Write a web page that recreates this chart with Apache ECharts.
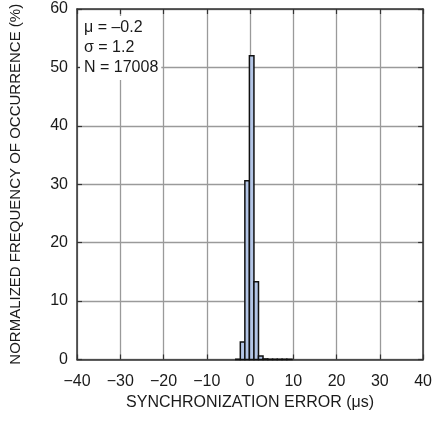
<!DOCTYPE html>
<html><head><meta charset="utf-8">
<script src="https://cdn.jsdelivr.net/npm/echarts@6/dist/echarts.min.js"></script>
<style>html,body{margin:0;padding:0;background:#fff}#c{width:435px;height:423px}</style>
</head><body><div id="c"></div>
<script>
const binLeft  = [-3.3, -2.25, -1.2, -0.15, 0.9, 1.95, 3.0, 4.1, 5.2, 6.3, 7.4, 8.5];
const binRight = [-2.25, -1.2, -0.15, 0.9, 1.95, 3.0, 4.1, 5.2, 6.3, 7.4, 8.5, 9.7];
const freq     = [0.05, 3.0, 30.6, 52.0, 13.3, 0.6, 0.1, 0.05, 0.05, 0.05, 0.05, 0.05];
const xTicks = [-40, 40, 10];
const yTicks = [0, 60, 10];
const statLines = ['μ = –0.2', 'σ = 1.2', 'N = 17008'];
const xTitle = 'SYNCHRONIZATION ERROR (μs)';
const yTitle = 'NORMALIZED FREQUENCY OF OCCURRENCE (%)';

const FONT = '"Liberation Sans Narrow", "Arial Narrow", "Liberation Sans", sans-serif';
const TXT = '#1a1a1a';
const data = binLeft.map((l, i) => [l, binRight[i], freq[i]]);

const chart = echarts.init(document.getElementById('c'), null, {renderer: 'canvas'});
const frame = {show: true, onZero: false, lineStyle: {color: '#333', width: 1.5}};
const tick = {show: true, inside: true, length: 5, lineStyle: {color: '#333', width: 1.2}};
chart.setOption({
  animation: false,
  grid: {left: 75.5, top: 9, right: 8, bottom: 63.5},
  xAxis: [{
    type: 'value', min: xTicks[0], max: xTicks[1], interval: xTicks[2],
    axisLine: frame, axisTick: tick,
    splitLine: {show: true, lineStyle: {color: '#9a9a9a', width: 1.3}},
    axisLabel: {color: TXT, fontFamily: FONT, fontSize: 16, margin: 14,
      formatter: v => (v < 0 ? '\u2212' + Math.abs(v) : '' + v)},
    name: xTitle, nameLocation: 'middle', nameGap: 33,
    nameTextStyle: {color: TXT, fontFamily: FONT, fontSize: 16}
  }, {
    type: 'value', position: 'top', min: xTicks[0], max: xTicks[1], interval: xTicks[2],
    axisLine: frame, axisTick: tick, axisLabel: {show: false}, splitLine: {show: false}
  }],
  yAxis: [{
    type: 'value', min: yTicks[0], max: yTicks[1], interval: yTicks[2],
    axisLine: frame, axisTick: tick,
    splitLine: {show: true, lineStyle: {color: '#9a9a9a', width: 1.3}},
    axisLabel: {color: TXT, fontFamily: FONT, fontSize: 16, margin: 9},
    name: yTitle, nameLocation: 'middle', nameGap: 54,
    nameTextStyle: {color: TXT, fontFamily: FONT, fontSize: 15}
  }, {
    type: 'value', position: 'right', min: yTicks[0], max: yTicks[1], interval: yTicks[2],
    axisLine: frame, axisTick: tick, axisLabel: {show: false}, splitLine: {show: false}
  }],
  series: [{
    type: 'custom',
    data: data,
    encode: {x: [0, 1], y: 2},
    renderItem: function (params, api) {
      const p0 = api.coord([api.value(0), api.value(2)]);
      const p1 = api.coord([api.value(1), 0]);
      return {
        type: 'rect',
        shape: {x: p0[0], y: p0[1], width: p1[0] - p0[0], height: p1[1] - p0[1]},
        style: {fill: '#b3c5e6', stroke: '#111', lineWidth: 1.5}
      };
    }
  }],
  graphic: [{
    type: 'text', left: 80, top: 16, z: 100,
    style: {text: statLines.join('\n'), fill: TXT, font: '16px ' + FONT, lineHeight: 20,
      backgroundColor: '#fff', padding: [2, 3, 2, 4]}
  }]
});
</script></body></html>
